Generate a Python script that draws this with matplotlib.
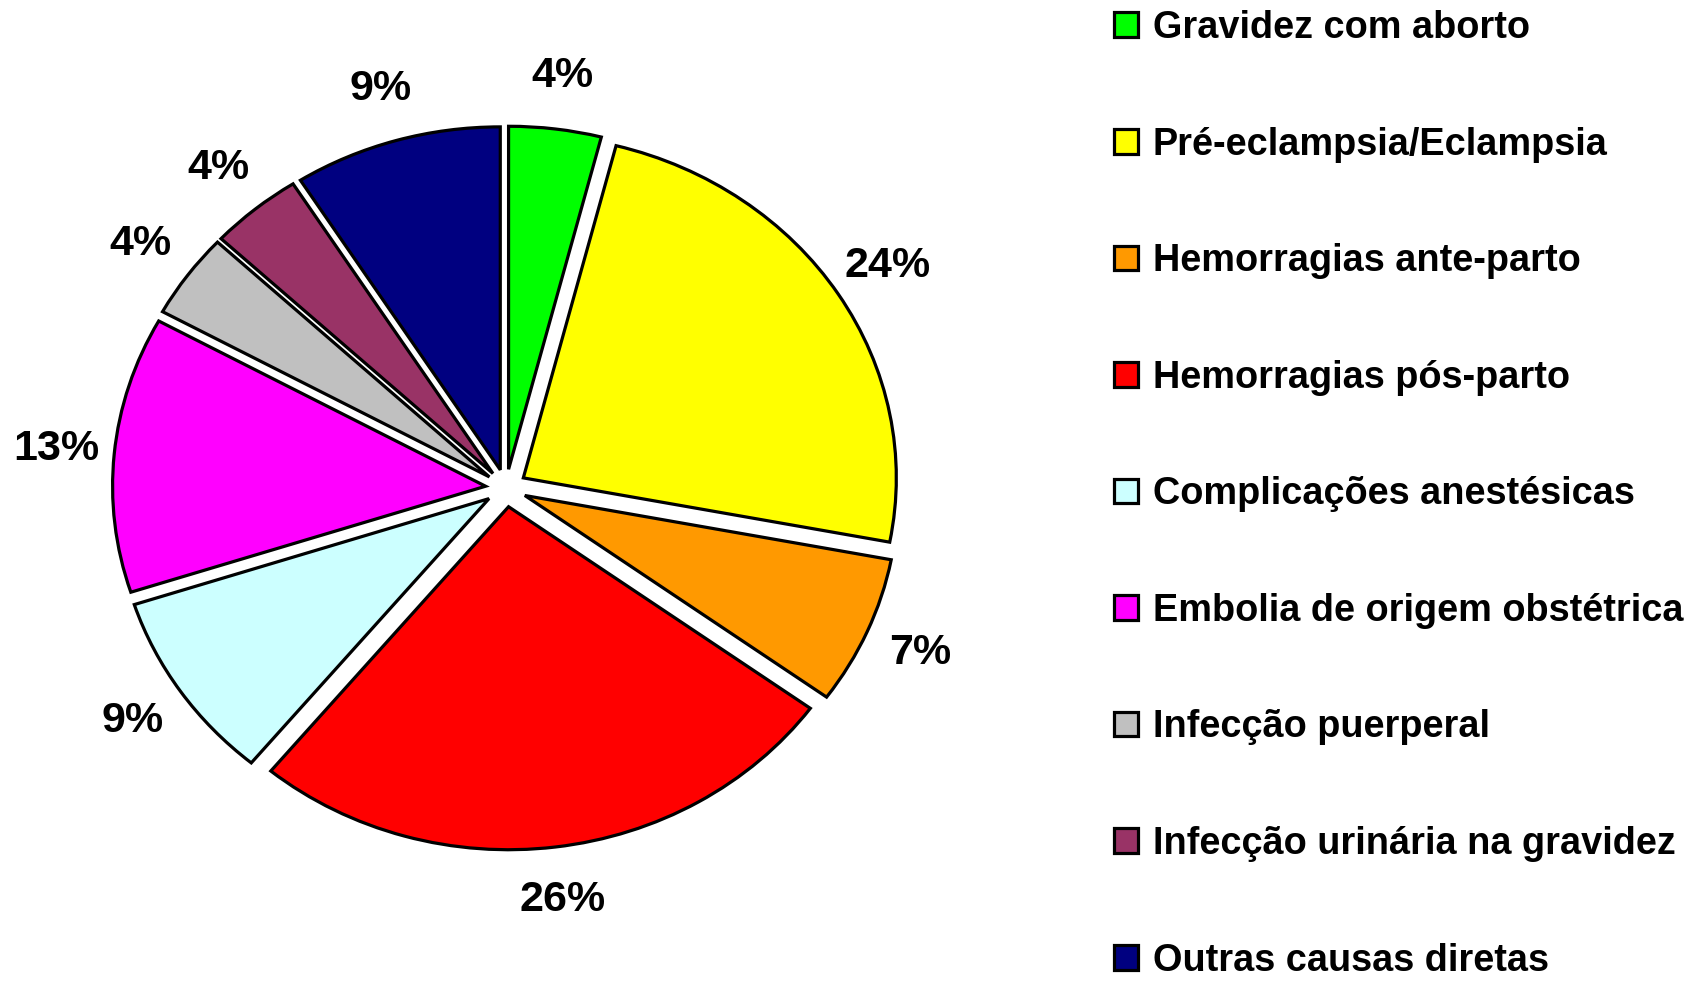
import matplotlib
matplotlib.use("Agg")
import matplotlib.pyplot as plt

categories = ["Gravidez com aborto", "Pré-eclampsia/Eclampsia", "Hemorragias ante-parto",
              "Hemorragias pós-parto", "Complicações anestésicas", "Embolia de origem obstétrica",
              "Infecção puerperal", "Infecção urinária na gravidez", "Outras causas diretas"]
values = [4, 24, 7, 26, 9, 13, 4, 4, 9]
colors = ["#00FF00", "#FFFF00", "#FF9900", "#FF0000", "#CCFFFF", "#FF00FF",
          "#C0C0C0", "#993366", "#000080"]

plt.rcParams['font.family'] = ["Liberation Sans", "DejaVu Sans"]

W, H = 1698, 981
fig = plt.figure(figsize=(W / 100, H / 100), dpi=100)
cx, cy = 506, 493
rx, ry = 373, 343
lim = 1.2
ax = fig.add_axes([(cx - lim * rx) / W, (cy - lim * ry) / H, 2 * lim * rx / W, 2 * lim * ry / H])

wedges, texts, autotexts = ax.pie(
    values, colors=colors, startangle=90, counterclock=False,
    explode=[0.055] * len(values),
    autopct='%.0f%%', pctdistance=1.155,
    wedgeprops=dict(edgecolor='black', linewidth=2.3),
    textprops=dict(fontsize=31, fontweight='bold', color='black'))
ax.set_aspect('auto')
ax.set_xlim(-lim, lim)
ax.set_ylim(-lim, lim)
ax.axis('off')

fig.legend(wedges, categories, loc='upper left', bbox_to_anchor=(1114 / W, 1 - 10 / H),
           frameon=False, prop=dict(weight='bold', size=27.3),
           handlelength=0.62, handleheight=0.62, handletextpad=0.4,
           labelspacing=2.125, borderaxespad=0, borderpad=0)

fig.savefig("out.png", dpi=100, facecolor='white')
